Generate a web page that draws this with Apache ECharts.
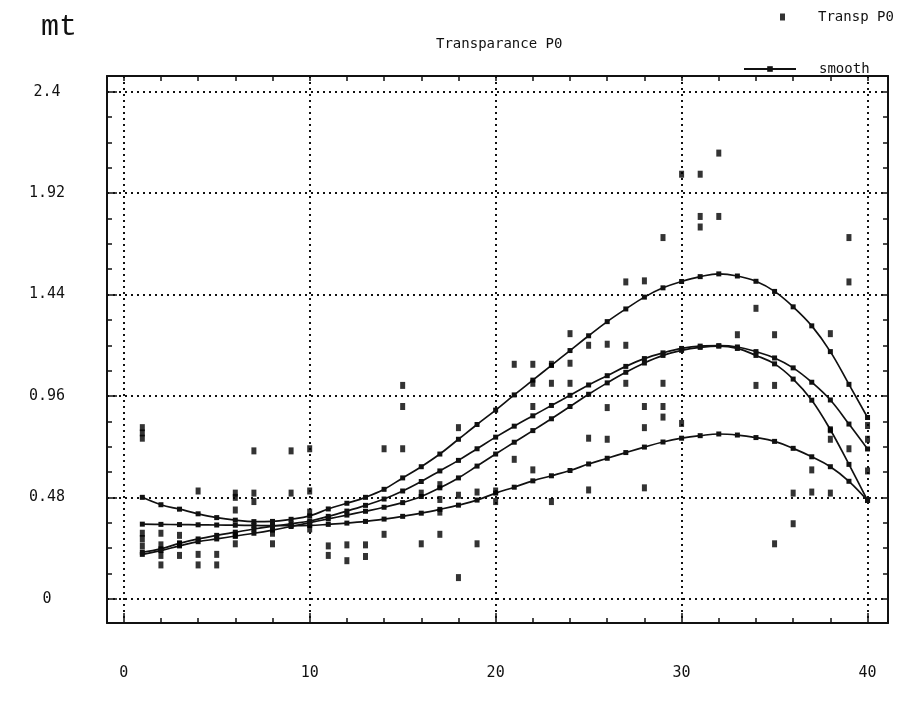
<!DOCTYPE html>
<html><head><meta charset="utf-8">
<script src="https://cdn.jsdelivr.net/npm/echarts@6/dist/echarts.min.js"></script>
<style>html,body{margin:0;padding:0;background:#fff}#c{width:911px;height:708px}</style>
</head><body><div id="c"></div>
<script>
// ---- tick labels ----
const xTickLabels = [0, 10, 20, 30, 40];
const xMinorTicks = [0, 2, 4, 6, 8, 10, 12, 14, 16, 18, 20, 22, 24, 26, 28, 30, 32, 34, 36, 38, 40];
const yTickLabels = [0, 0.48, 0.96, 1.44, 1.92, 2.4];
const yMinorTicks = [0, 0.12, 0.24, 0.36, 0.48, 0.6, 0.72, 0.84, 0.96, 1.08, 1.2, 1.32, 1.44, 1.56, 1.68, 1.8, 1.92, 2.04, 2.16, 2.28, 2.4];

// ---- smooth curves (x = 1..40) ----
const smoothX = [1,2,3,4,5,6,7,8,9,10,11,12,13,14,15,16,17,18,19,20,21,22,23,24,25,26,27,28,29,30,31,32,33,34,35,36,37,38,39,40];
const smoothA = [0.48,0.445,0.424,0.402,0.384,0.372,0.365,0.366,0.376,0.392,
                 0.425,0.452,0.48,0.518,0.572,0.625,0.685,0.755,0.825,0.893,
                 0.965,1.035,1.105,1.175,1.245,1.312,1.372,1.428,1.472,1.502,
                 1.525,1.538,1.528,1.503,1.455,1.382,1.292,1.17,1.015,0.858];
const smoothB = [0.22,0.236,0.262,0.283,0.30,0.315,0.33,0.343,0.355,0.368,
                 0.39,0.415,0.442,0.472,0.51,0.555,0.605,0.655,0.71,0.765,
                 0.817,0.866,0.915,0.963,1.012,1.056,1.10,1.137,1.164,1.185,
                 1.196,1.198,1.192,1.17,1.14,1.093,1.025,0.941,0.827,0.709];
const smoothC = [0.21,0.228,0.25,0.27,0.283,0.297,0.31,0.325,0.342,0.36,
                 0.378,0.396,0.414,0.433,0.455,0.484,0.525,0.572,0.628,0.685,
                 0.741,0.796,0.852,0.91,0.968,1.022,1.072,1.116,1.152,1.176,
                 1.19,1.196,1.185,1.152,1.112,1.04,0.94,0.80,0.636,0.465];
const smoothD = [0.353,0.352,0.351,0.35,0.349,0.348,0.347,0.346,0.346,0.347,
                 0.352,0.358,0.366,0.377,0.39,0.405,0.423,0.443,0.467,0.50,
                 0.528,0.558,0.582,0.607,0.638,0.665,0.692,0.718,0.742,0.76,
                 0.772,0.78,0.775,0.763,0.745,0.712,0.672,0.625,0.556,0.465];

// ---- measured points (Transp P0) ----
const scatterX = [1,1,1,1,1,1, 2,2,2,2, 3,3,3, 4,4,4, 5,5, 6,6,6,6,6, 7,7,7, 8,8, 9,9, 10,10,10,10,
                  11,11, 12,12, 13,13, 14,14, 15,15,15, 16,16, 17,17,17,17, 18,18,18, 19,19, 20,20,
                  21,21, 22,22,22,22, 23,23,23, 24,24,24, 25,25,25, 26,26,26, 27,27,27, 28,28,28,28, 29,29,29,29, 30,30,
                  31,31,31, 32,32, 33, 34,34, 35,35,35, 36,36, 37,37, 38,38,38,38, 39,39,39, 40,40,40];
const scatterY = [0.81,0.785,0.76,0.31,0.285,0.25, 0.31,0.255,0.205,0.16, 0.30,0.26,0.205, 0.51,0.21,0.16, 0.21,0.16,
                  0.50,0.48,0.42,0.30,0.26, 0.70,0.50,0.46, 0.31,0.26, 0.70,0.50, 0.71,0.51,0.41,0.33,
                  0.25,0.205, 0.255,0.18, 0.255,0.20, 0.71,0.305, 1.01,0.91,0.71, 0.26,0.50, 0.54,0.47,0.41,0.305,
                  0.81,0.49,0.10, 0.505,0.26, 0.51,0.46,
                  1.11,0.66, 1.11,1.02,0.91,0.61, 1.11,1.02,0.46, 1.255,1.115,1.02, 1.20,0.76,0.515, 1.205,0.905,0.755,
                  1.50,1.20,1.02, 1.505,0.91,0.81,0.525, 1.71,1.02,0.91,0.86, 2.01,0.83,
                  2.01,1.81,1.76, 2.11,1.81, 1.25, 1.375,1.01, 1.25,1.01,0.26, 0.50,0.355, 0.61,0.505,
                  1.255,0.80,0.755,0.50, 1.71,1.50,0.71, 0.82,0.755,0.605];

const ink = '#111111';
const FONT = 'DejaVu Sans Mono';
const XMIN = -0.9, XMAX = 41.1, YMIN = -0.115, YMAX = 2.475;
const dotted = { type: [2, 4], color: ink, width: 2 };

function pairs(xs, ys) { return xs.map((x, i) => [x, ys[i]]); }

function lineSeries(ys) {
  return {
    name: 'smooth', type: 'line', data: pairs(smoothX, ys), smooth: 0.4,
    symbol: 'rect', symbolSize: 5, showSymbol: true,
    lineStyle: { color: ink, width: 1.7 }, itemStyle: { color: ink },
    xAxisIndex: 0, yAxisIndex: 0, z: 3
  };
}

const chart = echarts.init(document.getElementById('c'), null, { renderer: 'canvas' });
chart.setOption({
  backgroundColor: '#ffffff',
  animation: false,
  title: {
    text: 'Transparance P0', left: 431, top: 32,
    textStyle: { fontFamily: FONT, fontSize: 14, fontWeight: 'normal', color: ink }
  },
  legend: [
    { data: ['Transp P0'], left: 775, top: 5, itemWidth: 5, itemHeight: 7, selectedMode: false,
      textStyle: { fontFamily: FONT, fontSize: 14, color: ink, padding: [0, 0, 0, 28] } },
    { data: ['smooth'], left: 738, top: 57, itemWidth: 52, itemHeight: 7, selectedMode: false,
      textStyle: { fontFamily: FONT, fontSize: 14, color: ink, padding: [0, 0, 0, 18] } }
  ],
  grid: { left: 107, right: 23, top: 76, bottom: 85, containLabel: false },
  xAxis: [
    { type: 'value', min: XMIN, max: XMAX, position: 'bottom',
      axisLine: { show: true, onZero: false, lineStyle: { color: ink, width: 2 } },
      axisTick: { show: true, inside: true, length: 5, customValues: xMinorTicks, lineStyle: { color: ink, width: 1.5 } },
      axisLabel: { show: true, customValues: xTickLabels, margin: 43, fontFamily: FONT, fontSize: 15, color: ink },
      splitLine: { show: false } },
    { type: 'value', min: XMIN, max: XMAX, position: 'top',
      axisLine: { show: true, onZero: false, lineStyle: { color: ink, width: 2 } },
      axisTick: { show: true, inside: true, length: 5, customValues: xMinorTicks, lineStyle: { color: ink, width: 1.5 } },
      axisLabel: { show: false }, splitLine: { show: false } },
    { type: 'value', min: XMIN, max: XMAX, position: 'bottom',
      axisLine: { show: false, onZero: false },
      axisTick: { show: true, inside: true, length: 10, customValues: xTickLabels, lineStyle: { color: ink, width: 1.5 } },
      axisLabel: { show: false },
      splitLine: { show: true, lineStyle: dotted } }
  ],
  yAxis: [
    { type: 'value', min: YMIN, max: YMAX, position: 'left',
      name: 'mt', nameLocation: 'end', nameGap: 34,
      nameTextStyle: { fontFamily: 'Liberation Mono', fontSize: 30, color: ink, align: 'right', padding: [0, 30, 0, 0] },
      axisLine: { show: true, onZero: false, lineStyle: { color: ink, width: 2 } },
      axisTick: { show: true, inside: true, length: 5, customValues: yMinorTicks, lineStyle: { color: ink, width: 1.5 } },
      axisLabel: { show: true, customValues: yTickLabels, margin: 60, align: 'center',
                   fontFamily: FONT, fontSize: 15, color: ink, formatter: v => String(v) },
      splitLine: { show: false } },
    { type: 'value', min: YMIN, max: YMAX, position: 'right',
      axisLine: { show: true, onZero: false, lineStyle: { color: ink, width: 2 } },
      axisTick: { show: true, inside: true, length: 5, customValues: yMinorTicks, lineStyle: { color: ink, width: 1.5 } },
      axisLabel: { show: false }, splitLine: { show: false } },
    { type: 'value', min: YMIN, max: YMAX, position: 'left',
      axisLine: { show: false, onZero: false },
      axisTick: { show: true, inside: true, length: 10, customValues: yTickLabels, lineStyle: { color: ink, width: 1.5 } },
      axisLabel: { show: false },
      splitLine: { show: true, lineStyle: dotted } }
  ],
  series: [
    { name: 'Transp P0', type: 'scatter', data: pairs(scatterX, scatterY),
      symbol: 'rect', symbolSize: [5, 7], itemStyle: { color: '#000' },
      xAxisIndex: 0, yAxisIndex: 0, z: 4 },
    lineSeries(smoothA), lineSeries(smoothB), lineSeries(smoothC), lineSeries(smoothD)
  ]
});
</script>
</body></html>
